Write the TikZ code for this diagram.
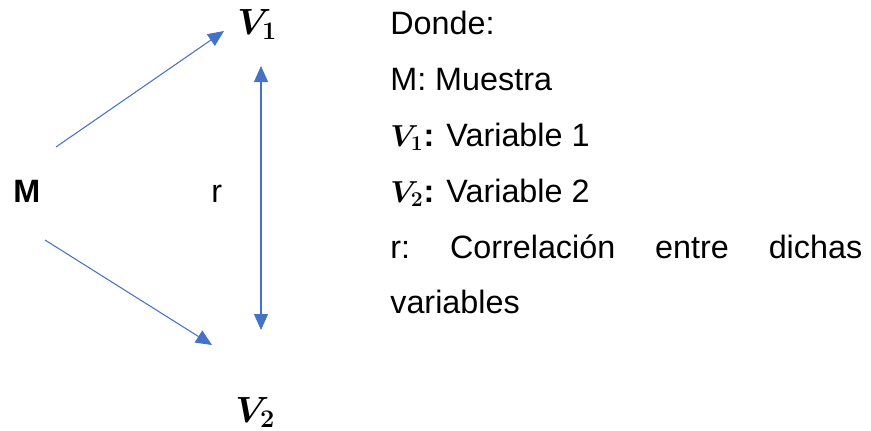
\documentclass[tikz,border=0pt]{standalone}
\usepackage{fontspec}
\setmainfont{Liberation Sans}
\usepackage{bm}
\usepackage{xcolor}
\usepackage{tikz}
\usetikzlibrary{positioning,arrows.meta}
\definecolor{officeblue}{RGB}{68,114,196}

\begin{document}
\begin{tikzpicture}[
    x=0.02cm, y=-0.02cm,
    txt/.style={font=\fontsize{18.4}{21}\selectfont, inner sep=0pt, anchor=base west},
    var/.style={txt, font=\fontsize{21.5}{24}\selectfont},
    flecha/.style={draw=officeblue, line width=0.6pt, -{Triangle[length=0.32cm, width=0.28cm]}},
]
\useasboundingbox (0,0) rectangle (871,430);

% Muestra y variables
\node[txt, font=\fontsize{18.4}{21}\selectfont\bfseries] (M) at (13,202) {M};
\node[txt] (r) at (211,202) {r};
\node[var] (V1) at (237,34) {$\bm{V_1}$};
\node[var] (V2) at (235,422) {$\bm{V_2}$};

% extremos de las flechas
\coordinate (m1) at (56,147);
\coordinate (v1in) at (224,31);
\coordinate (m2) at (45,240);
\coordinate (v2in) at (212,345);
\coordinate (rtop) at (261,66);
\coordinate (rbot) at (261,330);

\draw[flecha] (m1) -- (v1in);
\draw[flecha] (m2) -- (v2in);
\draw[flecha, {Triangle[length=0.32cm, width=0.28cm]}-{Triangle[length=0.32cm, width=0.28cm]}] (rtop) -- (rbot);

% Leyenda
\node[txt] (donde) at (390,34.5) {Donde:};
\node[txt] (lm) at (390,90) {M: Muestra};
\node[txt] (lv1) at (390,146) {$\bm{V_1}$\textbf{:} Variable 1};
\node[txt] (lv2) at (390,202) {$\bm{V_2}$\textbf{:} Variable 2};
\node[txt, text width=9.44cm] (lr) at (390,258) {r:\hfill Correlación\hfill entre\hfill dichas};
\node[txt] (lvar) at (390,313) {variables};
\end{tikzpicture}
\end{document}
